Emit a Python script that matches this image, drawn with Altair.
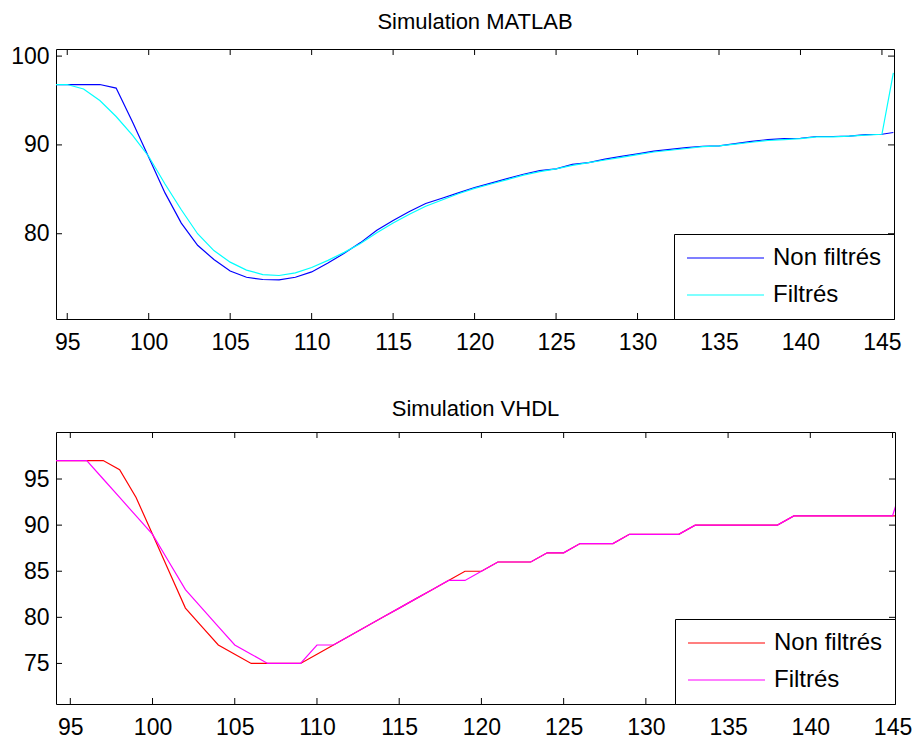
import altair as alt
import pandas as pd

FONT = "Liberation Sans"
series_names = ["Non filtrés", "Filtrés"]

# ---------------- Simulation MATLAB ----------------
x_top = [94.3, 95, 96, 97, 98, 99, 100, 101, 102, 103, 104, 105, 106, 107, 108, 109,
         110, 111, 112, 113, 114, 115, 116, 117, 118, 119, 120, 121, 122, 123, 124,
         125, 126, 127, 128, 129, 130, 131, 132, 133, 134, 135, 136, 137, 138, 139,
         140, 141, 142, 143, 144, 145, 145.7]
top_raw = [96.8, 96.8, 96.8, 96.8, 96.4, 92.6, 88.6, 84.6, 81.2, 78.7, 77.1, 75.8, 75.1,
           74.85, 74.8, 75.1, 75.7, 76.7, 77.8, 79.0, 80.4, 81.5, 82.5, 83.4, 84.0, 84.6,
           85.2, 85.7, 86.2, 86.7, 87.1, 87.3, 87.8, 88.0, 88.4, 88.7, 89.0, 89.3, 89.5,
           89.7, 89.85, 89.9, 90.15, 90.4, 90.6, 90.7, 90.75, 90.95, 90.95, 91.0, 91.15,
           91.2, 91.4]
top_filt = [96.8, 96.8, 96.3, 95.0, 93.2, 91.1, 88.7, 85.6, 82.7, 80.0, 78.1, 76.8, 75.9,
            75.4, 75.3, 75.6, 76.2, 77.0, 77.9, 78.9, 80.1, 81.2, 82.2, 83.1, 83.8, 84.5,
            85.1, 85.6, 86.1, 86.6, 87.0, 87.3, 87.7, 88.0, 88.3, 88.6, 88.9, 89.2, 89.4,
            89.6, 89.8, 89.9, 90.1, 90.3, 90.5, 90.6, 90.7, 90.9, 90.9, 91.0, 91.1, 91.2,
            98.1]
top_xdomain = [94.31, 145.74]
top_ydomain = [70.4, 100.8]
top_yticks = [80, 90, 100]

# ---------------- Simulation VHDL ----------------
x_bot = [94.1, 95, 96, 97, 98, 99, 100, 101, 102, 103, 104, 105, 106, 107, 108, 109,
         110, 111, 112, 113, 114, 115, 116, 117, 118, 119, 120, 121, 122, 123, 124,
         125, 126, 127, 128, 129, 130, 131, 132, 133, 134, 135, 136, 137, 138, 139,
         140, 141, 142, 143, 144, 145, 145.7]
bot_raw = [97, 97, 97, 97, 96, 93, 89, 85, 81, 79, 77, 76, 75, 75, 75, 75, 76, 77, 78, 79,
           80, 81, 82, 83, 84, 85, 85, 86, 86, 86, 87, 87, 88, 88, 88, 89, 89, 89, 89, 90,
           90, 90, 90, 90, 90, 91, 91, 91, 91, 91, 91, 91, 91]
bot_filt = [97, 97, 97, 95, 93, 91, 89, 86, 83, 81, 79, 77, 76, 75, 75, 75, 77, 77, 78, 79,
            80, 81, 82, 83, 84, 84, 85, 86, 86, 86, 87, 87, 88, 88, 88, 89, 89, 89, 89, 90,
            90, 90, 90, 90, 90, 91, 91, 91, 91, 91, 91, 91, 95]
bot_xdomain = [94.13, 145.15]
bot_ydomain = [70.6, 100.1]
bot_yticks = [75, 80, 85, 90, 95]

x_ticks = [95, 100, 105, 110, 115, 120, 125, 130, 135, 140, 145]


def long_df(xs, raw, filt):
    rows = []
    for xv, v in zip(xs, raw):
        rows.append({"x": xv, "v": v, "series": series_names[0]})
    for xv, v in zip(xs, filt):
        rows.append({"x": xv, "v": v, "series": series_names[1]})
    return pd.DataFrame(rows)


def panel(df, xdom, ydom, yticks, title, colors, W, H):
    xaxis = alt.Axis(values=x_ticks, labelFontSize=23, labelFont=FONT, labelColor="black",
                     ticks=False, tickSize=0, domain=False, grid=False, labelPadding=12,
                     labelFlush=False, labelOverlap=False, format="d")
    yaxis = alt.Axis(values=yticks, labelFontSize=23, labelFont=FONT, labelColor="black",
                     ticks=False, tickSize=0, domain=False, grid=False, labelPadding=7,
                     labelOverlap=False, format="d")
    xs = alt.Scale(domain=xdom, nice=False, zero=False)
    ys = alt.Scale(domain=ydom, nice=False, zero=False)

    line = alt.Chart(df).mark_line(clip=True, strokeWidth=1.2).encode(
        x=alt.X("x:Q", scale=xs, axis=xaxis, title=None),
        y=alt.Y("v:Q", scale=ys, axis=yaxis, title=None),
        color=alt.Color(
            "series:N",
            scale=alt.Scale(domain=series_names, range=colors),
            legend=alt.Legend(
                title=None, orient="bottom-right", offset=0, symbolType="stroke",
                symbolSize=5929, symbolStrokeWidth=1.2, clipHeight=24, rowPadding=13,
                labelOffset=8, padding=12, labelFontSize=24, labelFont=FONT,
                labelColor="black", strokeColor="black", fillColor="white",
                cornerRadius=0, labelLimit=0,
            ),
        ),
    )
    xt = pd.DataFrame({"x": x_ticks})
    yt = pd.DataFrame({"v": yticks})
    xenc = alt.X("x:Q", scale=xs, axis=xaxis, title=None)
    yenc = alt.Y("v:Q", scale=ys, axis=yaxis, title=None)
    tick_top = alt.Chart(xt).mark_rule(color="black", strokeWidth=1).encode(
        x=xenc, y=alt.value(0), y2=alt.value(6))
    tick_bot = alt.Chart(xt).mark_rule(color="black", strokeWidth=1).encode(
        x=xenc, y=alt.value(H - 6), y2=alt.value(H))
    tick_left = alt.Chart(yt).mark_rule(color="black", strokeWidth=1).encode(
        y=yenc, x=alt.value(0), x2=alt.value(6))
    tick_right = alt.Chart(yt).mark_rule(color="black", strokeWidth=1).encode(
        y=yenc, x=alt.value(W - 6), x2=alt.value(W))
    return alt.layer(line, tick_top, tick_bot, tick_left, tick_right).properties(
        width=W, height=H,
        title=alt.TitleParams(text=title, fontSize=22, font=FONT, fontWeight="normal",
                              color="black", anchor="middle", frame="group",
                              offset=0, dy=6, baseline="alphabetic"),
    )


top = panel(long_df(x_top, top_raw, top_filt), top_xdomain, top_ydomain, top_yticks,
            "Simulation MATLAB", ["#0000ff", "#00ffff"], 838, 270)
bottom = panel(long_df(x_bot, bot_raw, bot_filt), bot_xdomain, bot_ydomain, bot_yticks,
               "Simulation VHDL", ["#ff0000", "#ff00ff"], 839, 272)

chart = alt.vconcat(top, bottom, spacing=42).resolve_scale(
    color="independent", x="independent", y="independent"
).resolve_legend(color="independent").properties(
    padding={"left": 10, "top": 10, "right": 0, "bottom": 0},
    background="white",
).configure(
    font=FONT,
    view=alt.ViewConfig(stroke="black", strokeWidth=1),
)

chart.save("out.html", embed_options={"renderer": "svg", "actions": False})
